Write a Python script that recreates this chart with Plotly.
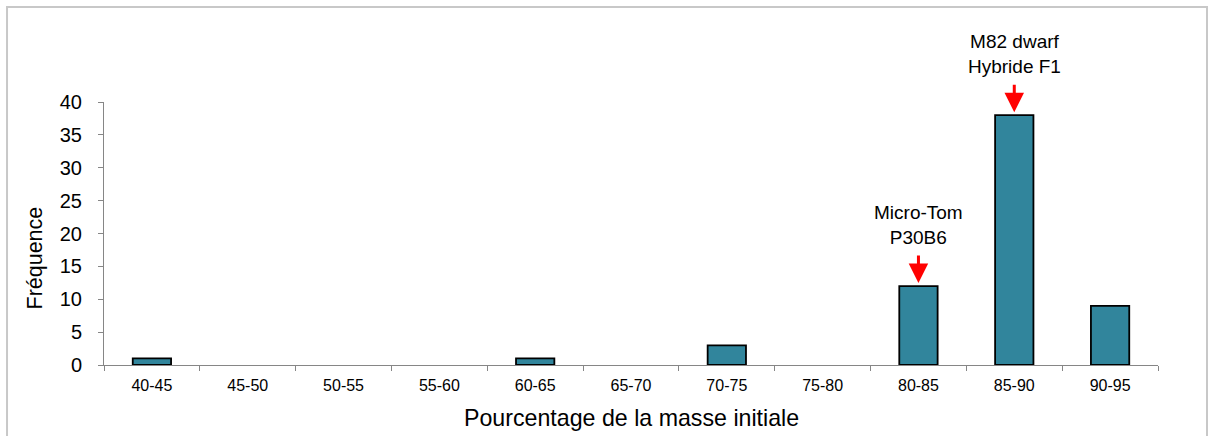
import plotly.graph_objects as go

categories = ["40-45", "45-50", "50-55", "55-60", "60-65", "65-70",
              "70-75", "75-80", "80-85", "85-90", "90-95"]
frequencies = [1, 0, 0, 0, 1, 0, 3, 0, 12, 38, 9]
y_ticks = [0, 5, 10, 15, 20, 25, 30, 35, 40]

labels_cat = ["80-85", "85-90"]
labels_text = ["Micro-Tom<br>P30B6", "M82 dwarf<br>Hybride F1"]

FONT = "Liberation Sans, Arial, sans-serif"
BAR_COLOR = "#31859C"
AXIS_COLOR = "#868686"

outline_widths = [1.8 if v > 0 else 0 for v in frequencies]

fig = go.Figure()
fig.add_trace(go.Bar(
    x=categories, y=frequencies, width=0.4,
    marker=dict(color=BAR_COLOR, line=dict(color="black", width=outline_widths)),
    hoverinfo="x+y",
))

annotations = []
for cat, txt in zip(labels_cat, labels_text):
    val = frequencies[categories.index(cat)]
    annotations.append(dict(
        x=cat, y=val, xref="x", yref="y", text="", showarrow=True,
        ax=0, ay=-32, axref="pixel", ayref="pixel",
        arrowhead=2, arrowsize=1.3, arrowwidth=3, arrowcolor="#FF0000",
        standoff=3,
    ))
    annotations.append(dict(
        x=cat, y=val, xref="x", yref="y", text=txt, showarrow=False,
        yanchor="bottom", yshift=36,
        font=dict(family=FONT, size=19, color="black"),
    ))

annotations.append(dict(
    x=0.5, y=-0.2015, xref="paper", yref="paper",
    text="Pourcentage de la masse initiale", showarrow=False,
    xanchor="center", yanchor="middle",
    font=dict(family=FONT, size=23.2, color="black"),
))
annotations.append(dict(
    x=-0.065, y=0.4068, xref="paper", yref="paper",
    text="Fréquence", showarrow=False, textangle=-90,
    xanchor="center", yanchor="middle",
    font=dict(family=FONT, size=21.5, color="black"),
))

fig.update_layout(
    width=1210, height=436,
    margin=dict(l=104, r=52, t=102, b=71),
    paper_bgcolor="white", plot_bgcolor="white",
    showlegend=False,
    font=dict(family=FONT, color="black"),
    annotations=annotations,
    shapes=[dict(
        type="rect", xref="paper", yref="paper",
        x0=-0.092, x1=1.0465, y0=-0.30, y1=1.3612,
        line=dict(color="#C8C8C8", width=2), fillcolor="rgba(0,0,0,0)",
        layer="below",
    )],
)

fig.update_xaxes(
    type="category", tickson="boundaries", ticks="outside", ticklen=5,
    tickcolor=AXIS_COLOR, showline=True, linecolor=AXIS_COLOR, linewidth=1,
    showgrid=False, zeroline=False,
    tickfont=dict(family=FONT, size=16, color="black"),
    ticklabelstandoff=6,
)
fig.update_yaxes(
    range=[0, 40], tickvals=y_ticks, ticks="outside", ticklen=5,
    tickcolor=AXIS_COLOR, showline=True, linecolor=AXIS_COLOR, linewidth=1,
    showgrid=False, zeroline=False,
    tickfont=dict(family=FONT, size=20, color="black"),
    ticklabelstandoff=12,
)

fig.write_html(
    "out.html",
    config={"displayModeBar": False},
    post_script="document.body.style.margin='0';document.body.style.overflow='hidden';",
)
